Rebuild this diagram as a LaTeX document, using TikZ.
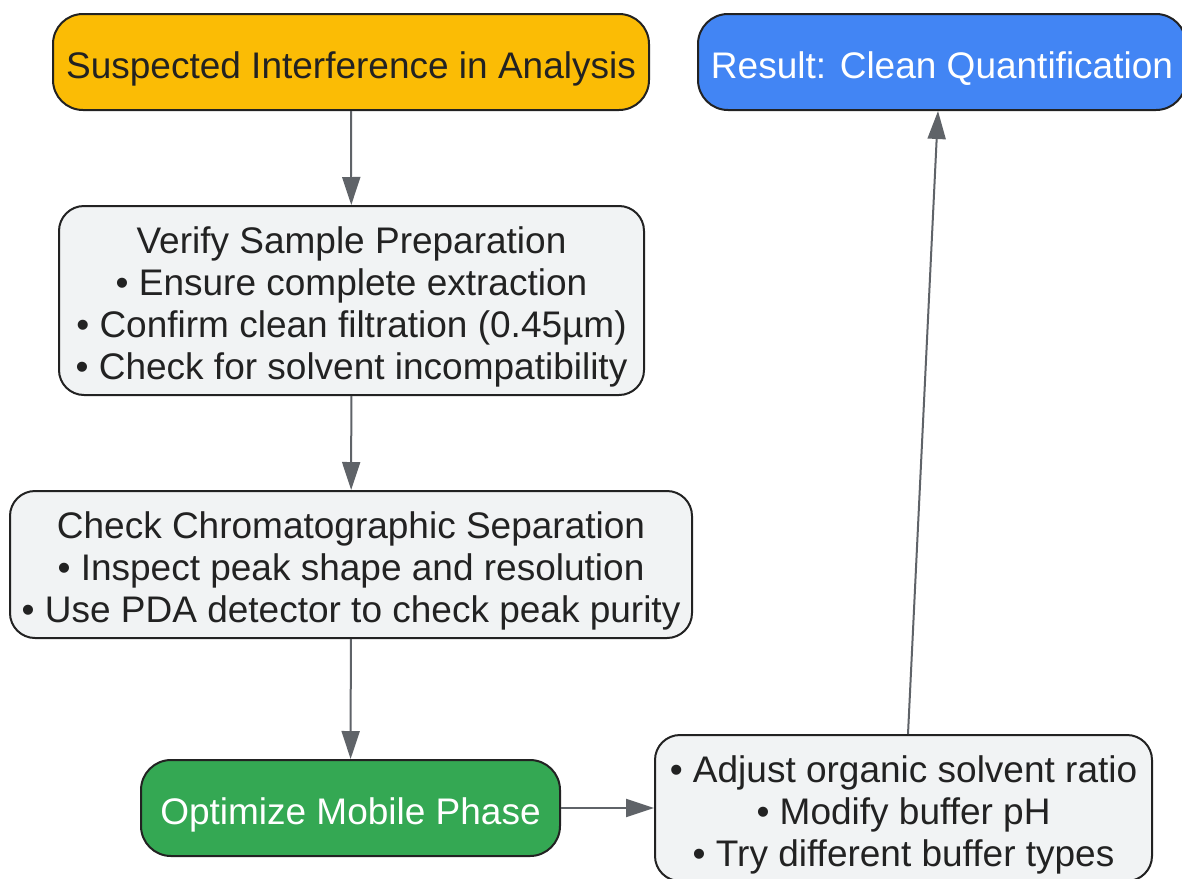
\documentclass[tikz,border=0pt]{standalone}
\usepackage{fontspec}
\setmainfont{Liberation Sans}
\usetikzlibrary{arrows.meta}
\definecolor{yel}{HTML}{FBBC05}
\definecolor{blu}{HTML}{4285F4}
\definecolor{grn}{HTML}{34A853}
\definecolor{lgr}{HTML}{F1F3F4}
\definecolor{edge}{HTML}{222222}
\definecolor{arr}{HTML}{5F6368}
\definecolor{txt}{HTML}{222222}
\newcommand\tstrut{\rule{0pt}{40pt}}
\newcommand\bstrut{\rule[-8pt]{0pt}{8pt}}
\tikzset{
  box/.style={draw=edge, line width=2pt, align=center, inner sep=0pt,
    font=\fontsize{37}{42}\selectfont, text=txt},
  pill/.style={box, rounded corners=30pt, minimum height=96pt},
  card/.style={box, fill=lgr, rounded corners=25pt},
  link/.style={draw=arr, line width=2pt, -{Triangle[length=28pt,width=18pt]}}
}
\begin{document}
\begin{tikzpicture}[x=1pt,y=-1pt]
\useasboundingbox (0,0) rectangle (1182,878);
\node[pill, fill=yel, minimum width=596pt] (A) at (351,62) {\tstrut\bstrut Suspected Interference in Analysis};
\node[pill, fill=blu, text=white, minimum width=488pt] (F) at (942,62) {\tstrut\bstrut Result: Clean Quantification};
\node[card, minimum width=585pt, minimum height=189pt] (B) at (351.5,300.5) {\tstrut Verify Sample Preparation\\ • Ensure complete extraction\\ • Confirm clean filtration (0.45µm)\\ \bstrut • Check for solvent incompatibility};
\node[card, minimum width=682pt, minimum height=147pt] (C) at (351,564.5) {\tstrut Check Chromatographic Separation\\ • Inspect peak shape and resolution\\ \bstrut • Use PDA detector to check peak purity};
\node[pill, fill=grn, text=white, minimum width=419pt] (D) at (350.5,808) {\tstrut\bstrut Optimize Mobile Phase};
\node[card, minimum width=497pt, minimum height=146pt] (E) at (903.5,808) {\tstrut • Adjust organic solvent ratio\\ • Modify buffer pH\\ \bstrut • Try different buffer types};
\draw[link] (A) -- (B);
\draw[link] (B) -- (C);
\draw[link] (C) -- (D);
\draw[link] (D) -- (E);
\draw[link] ([xshift=4.5pt]E.north) -- ([xshift=-4pt]F.south);
\end{tikzpicture}
\end{document}
